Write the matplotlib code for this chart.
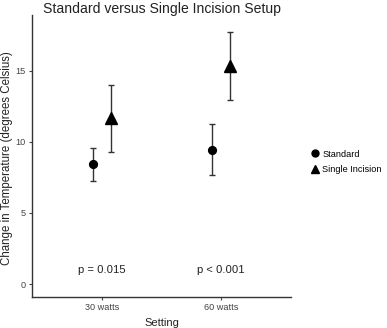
import matplotlib
matplotlib.use("Agg")
import matplotlib.pyplot as plt
from matplotlib.lines import Line2D

plt.rcParams['font.family'] = ['Liberation Sans', 'DejaVu Sans']

settings = ["30 watts", "60 watts"]
groups = ["Standard", "Single Incision"]
means = {"Standard": [8.42, 9.42], "Single Incision": [11.65, 15.35]}
lower = {"Standard": [7.24, 7.67], "Single Incision": [9.28, 12.94]}
upper = {"Standard": [9.54, 11.23], "Single Incision": [13.97, 17.74]}
pvalues = ["p = 0.015", "p < 0.001"]
markers = {"Standard": "o", "Single Incision": "^"}
yticks = [0, 5, 10, 15]

fig = plt.figure(figsize=(3.87, 3.28), dpi=100)
W, H = 387, 328
ax = fig.add_axes([32 / W, 1 - 297 / H, (291 - 32) / W, (297 - 15) / H])

offsets = {"Standard": -0.075, "Single Incision": 0.075}
xs = [1, 2]
for g in groups:
    x = [xi + offsets[g] for xi in xs]
    m = means[g]
    yerr = [[mi - lo for mi, lo in zip(m, lower[g])], [hi - mi for mi, hi in zip(m, upper[g])]]
    ax.errorbar(x, m, yerr=yerr, fmt='none', ecolor='#333333', elinewidth=1.0, capsize=2.5, capthick=1.0, zorder=2)
    ax.plot(x, m, linestyle='none', marker=markers[g], color='black', markersize=5.6 if g == "Standard" else 8, zorder=3)

for xi, p in zip(xs, pvalues):
    ax.text(xi, 1.0, p, ha='center', va='center', fontsize=8.1, color='#222222')

ax.set_xlim(0.414, 2.59)
ax.set_ylim(-0.91, 18.9)
ax.set_xticks(xs)
ax.set_xticklabels(settings)
ax.set_yticks(yticks)
ax.tick_params(axis='both', labelsize=6.6, colors='#444444', length=2.5, width=0.8, pad=2)
for s in ['top', 'right']:
    ax.spines[s].set_visible(False)
for s in ['left', 'bottom']:
    ax.spines[s].set_color('#333333')
    ax.spines[s].set_linewidth(1.0)

ax.set_xlabel("Setting", fontsize=8, color='#222222', labelpad=4)
fig.text(7.5 / W, 1 - 158 / H, "Change in Temperature (degrees Celsius)", fontsize=8.3, color='#222222',
         rotation=90, ha='center', va='center')
fig.text(43 / W, 1 - 9 / H, "Standard versus Single Incision Setup", fontsize=10.1, color='#222222', ha='left', va='center')

handles = [Line2D([], [], linestyle='none', marker=markers[g], color='black', markersize=5 if g == "Standard" else 6) for g in groups]
fig.legend(handles, groups, loc='center left', bbox_to_anchor=(306 / W, 1 - 162 / H), frameon=False,
           fontsize=6.6, handletextpad=0.3, labelspacing=0.75, handlelength=1.0, borderpad=0)

fig.savefig("out.png", dpi=100)
